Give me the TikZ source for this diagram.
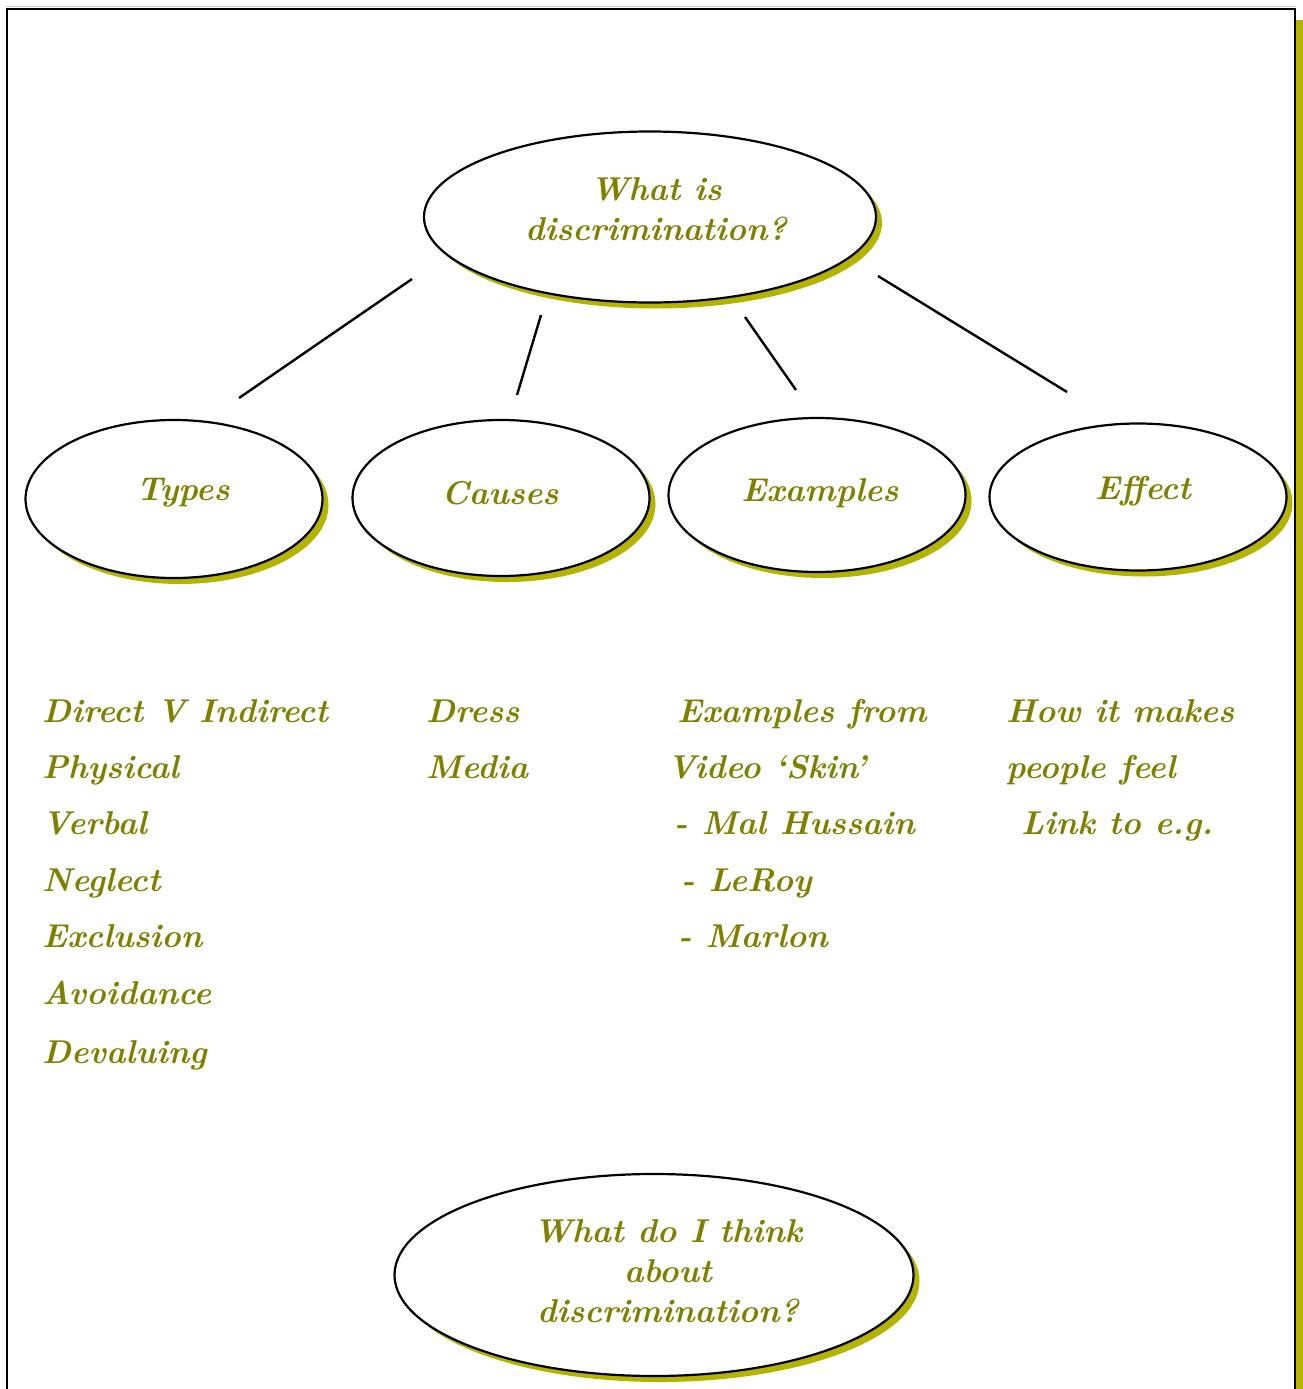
\documentclass[tikz,border=0pt]{standalone}
\usepackage{fontspec}
\usetikzlibrary{shapes.geometric}
\definecolor{txt}{HTML}{808000}
\definecolor{oliveshade}{HTML}{B3B300}
\tikzset{
  bubble/.style={ellipse, draw=black, line width=2.2pt, fill=white, inner sep=0pt},
  bubshadow/.style={ellipse, fill=oliveshade, draw=none, inner sep=0pt},
  lab/.style={text=txt, font=\fontsize{33}{40}\selectfont\bfseries\itshape, align=center, inner sep=0pt},
  item/.style={text=txt, font=\fontsize{33}{40}\selectfont\bfseries\itshape, anchor=base west, inner sep=0pt},
  link/.style={line width=2.4pt, black}
}
\begin{document}
\begin{tikzpicture}[x=1pt,y=-1pt]
\useasboundingbox (0,0) rectangle (1303,1389);
% frame
\fill[fill=oliveshade] (1296,20) rectangle (1303.5,1389.5);
\draw[gray!40, line width=1pt] (6,7) -- (1296,7);
\draw[black, line width=2.4pt] (7,1389.5) -- (7,9) -- (1295,9) -- (1295,1389.5);
% shadows
\node[bubshadow, minimum width=452pt, minimum height=171pt] at (656,223) {};
\node[bubshadow, minimum width=297pt, minimum height=158pt] at (180,505) {};
\node[bubshadow, minimum width=297pt, minimum height=156pt] at (507,504) {};
\node[bubshadow, minimum width=297pt, minimum height=154pt] at (823,501) {};
\node[bubshadow, minimum width=297pt, minimum height=147pt] at (1144,503) {};
\node[bubshadow, minimum width=519pt, minimum height=202pt] at (660,1281) {};
% bubbles
\node[bubble, minimum width=452pt, minimum height=171pt] (top) at (650,217) {};
\node[bubble, minimum width=297pt, minimum height=158pt] (types) at (174,499) {};
\node[bubble, minimum width=297pt, minimum height=156pt] (causes) at (501,498) {};
\node[bubble, minimum width=297pt, minimum height=154pt] (examples) at (817,495) {};
\node[bubble, minimum width=297pt, minimum height=147pt] (effect) at (1138,497) {};
\node[bubble, minimum width=519pt, minimum height=202pt] (think) at (654,1275) {};
% bubble labels
\node[lab] (toptxt) at (656,209) {What is\\discrimination?};
\node[lab] at (183,493) {Types};
\node[lab] at (500,493) {Causes};
\node[lab] at (820,493) {Examples};
\node[lab] at (1143,491) {Effect};
\node[lab] (thinktxt) at (668,1271) {What do I think\\about\\discrimination?};
% connectors with free ends
\coordinate (a1) at (412,279); \coordinate (a2) at (239,398);
\coordinate (b1) at (541,315); \coordinate (b2) at (517,395);
\coordinate (c1) at (745,317); \coordinate (c2) at (796,390);
\coordinate (d1) at (878,276); \coordinate (d2) at (1067,392);
\draw[link] (a1) -- (a2);
\draw[link] (b1) -- (b2);
\draw[link] (c1) -- (c2);
\draw[link] (d1) -- (d2);
% lists
\node[item] (t1) at (42,722) {Direct V Indirect};
\node[item] (t2) at (42,778) {Physical};
\node[item] (t3) at (42,834) {Verbal};
\node[item] (t4) at (42,891) {Neglect};
\node[item] (t5) at (42,947) {Exclusion};
\node[item] (t6) at (42,1004) {Avoidance};
\node[item] (t7) at (42,1063) {Devaluing};
\node[item] (c1t) at (426,722) {Dress};
\node[item] (c2t) at (426,778) {Media};
\node[item] (e1) at (677,722) {Examples from};
\node[item] (e2) at (667,778) {Video ‘Skin’};
\node[item] (e3) at (674,834) {- Mal Hussain};
\node[item] (e4) at (681,891) {- LeRoy};
\node[item] (e5) at (678,947) {- Marlon};
\node[item] (f1) at (1006,722) {How it makes};
\node[item] (f2) at (1006,778) {people feel};
\node[item] (f3) at (1021,834) {Link to e.g.};
\end{tikzpicture}
\end{document}
